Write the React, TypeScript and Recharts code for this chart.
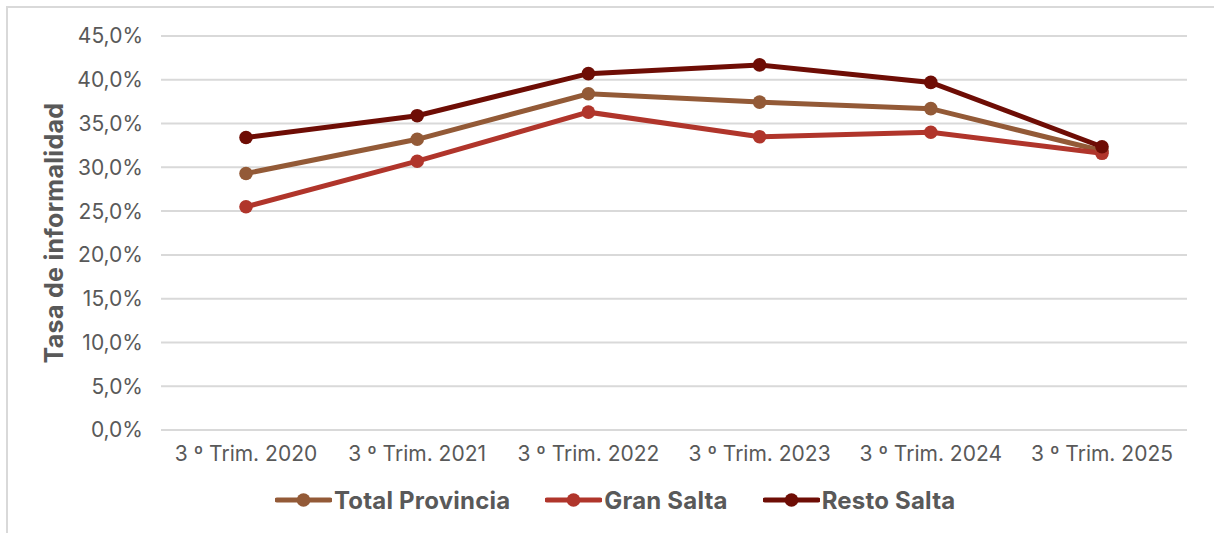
import { LineChart, Line, XAxis, YAxis, CartesianGrid, Legend, Label } from 'recharts'

const periods = ['3 º Trim. 2020', '3 º Trim. 2021', '3 º Trim. 2022', '3 º Trim. 2023', '3 º Trim. 2024', '3 º Trim. 2025']
const totalProvincia = [29.3, 33.2, 38.4, 37.45, 36.7, 31.9]
const granSalta = [25.5, 30.7, 36.3, 33.5, 34.0, 31.6]
const restoSalta = [33.4, 35.9, 40.7, 41.7, 39.7, 32.35]
const yTicks = [0, 5, 10, 15, 20, 25, 30, 35, 40, 45]

const SERIES = [
  { key: 'total', name: 'Total Provincia', color: '#935a37' },
  { key: 'gran', name: 'Gran Salta', color: '#b0352b' },
  { key: 'resto', name: 'Resto Salta', color: '#6e0d05' },
]

const data = periods.map((p, i) => ({
  period: p,
  total: totalProvincia[i],
  gran: granSalta[i],
  resto: restoSalta[i],
}))

const FONT = 'Inter, "Noto Sans", sans-serif'
const TEXT = '#595959'

const fmt = (v: number) => v.toFixed(1).replace('.', ',') + '%'

function LegendBox() {
  return (
    <div style={{ display: 'flex', alignItems: 'center', height: 50, gap: 35, paddingLeft: 275, fontFamily: FONT }}>
      {SERIES.map((s) => (
        <div key={s.key} style={{ display: 'flex', alignItems: 'center' }}>
          <svg width={57} height={16}>
            <line x1={2} y1={8} x2={55} y2={8} stroke={s.color} strokeWidth={5} strokeLinecap="round" />
            <circle cx={28.5} cy={8} r={6.8} fill={s.color} />
          </svg>
          <span style={{ fontSize: 24, fontWeight: 700, color: TEXT, marginLeft: 2, letterSpacing: 0.2 }}>{s.name}</span>
        </div>
      ))}
    </div>
  )
}

export default function App() {
  return (
    <div style={{ position: 'absolute', left: 0, top: 0, width: 1214, height: 533, background: '#fff', overflow: 'hidden' }}>
      <div style={{ position: 'absolute', left: 6, top: 6, width: 1300, height: 600, borderLeft: '2px solid #d9d9d9', borderTop: '2px solid #d9d9d9' }} />
      <LineChart width={1214} height={533} data={data} margin={{ top: 36, right: 27, left: 0, bottom: 8 }}>
        <CartesianGrid vertical={false} stroke="#d9d9d9" strokeWidth={2} />
        <XAxis
          dataKey="period"
          axisLine={false}
          tickLine={false}
          height={45}
          tickMargin={10}
          padding={{ left: 85, right: 85 }}
          tick={{ fill: TEXT, fontSize: 21, fontFamily: FONT }}
        />
        <YAxis
          width={161}
          domain={[0, 45]}
          ticks={yTicks}
          tickFormatter={fmt}
          axisLine={false}
          tickLine={false}
          tickSize={0}
          tickMargin={18}
          tick={{ fill: TEXT, fontSize: 21, fontFamily: FONT }}
        >
          <Label
            value="Tasa de informalidad"
            angle={-90}
            position="center"
            dx={-26}
            style={{ fill: TEXT, fontSize: 25, fontWeight: 700, fontFamily: FONT, letterSpacing: 0.3 }}
          />
        </YAxis>
        <Legend verticalAlign="bottom" content={<LegendBox />} />
        {SERIES.map((s) => (
          <Line
            key={s.key}
            dataKey={s.key}
            name={s.name}
            stroke={s.color}
            strokeWidth={5}
            dot={{ r: 6.8, fill: s.color, stroke: s.color, strokeWidth: 0 }}
            activeDot={false}
            isAnimationActive={false}
          />
        ))}
      </LineChart>
    </div>
  )
}
